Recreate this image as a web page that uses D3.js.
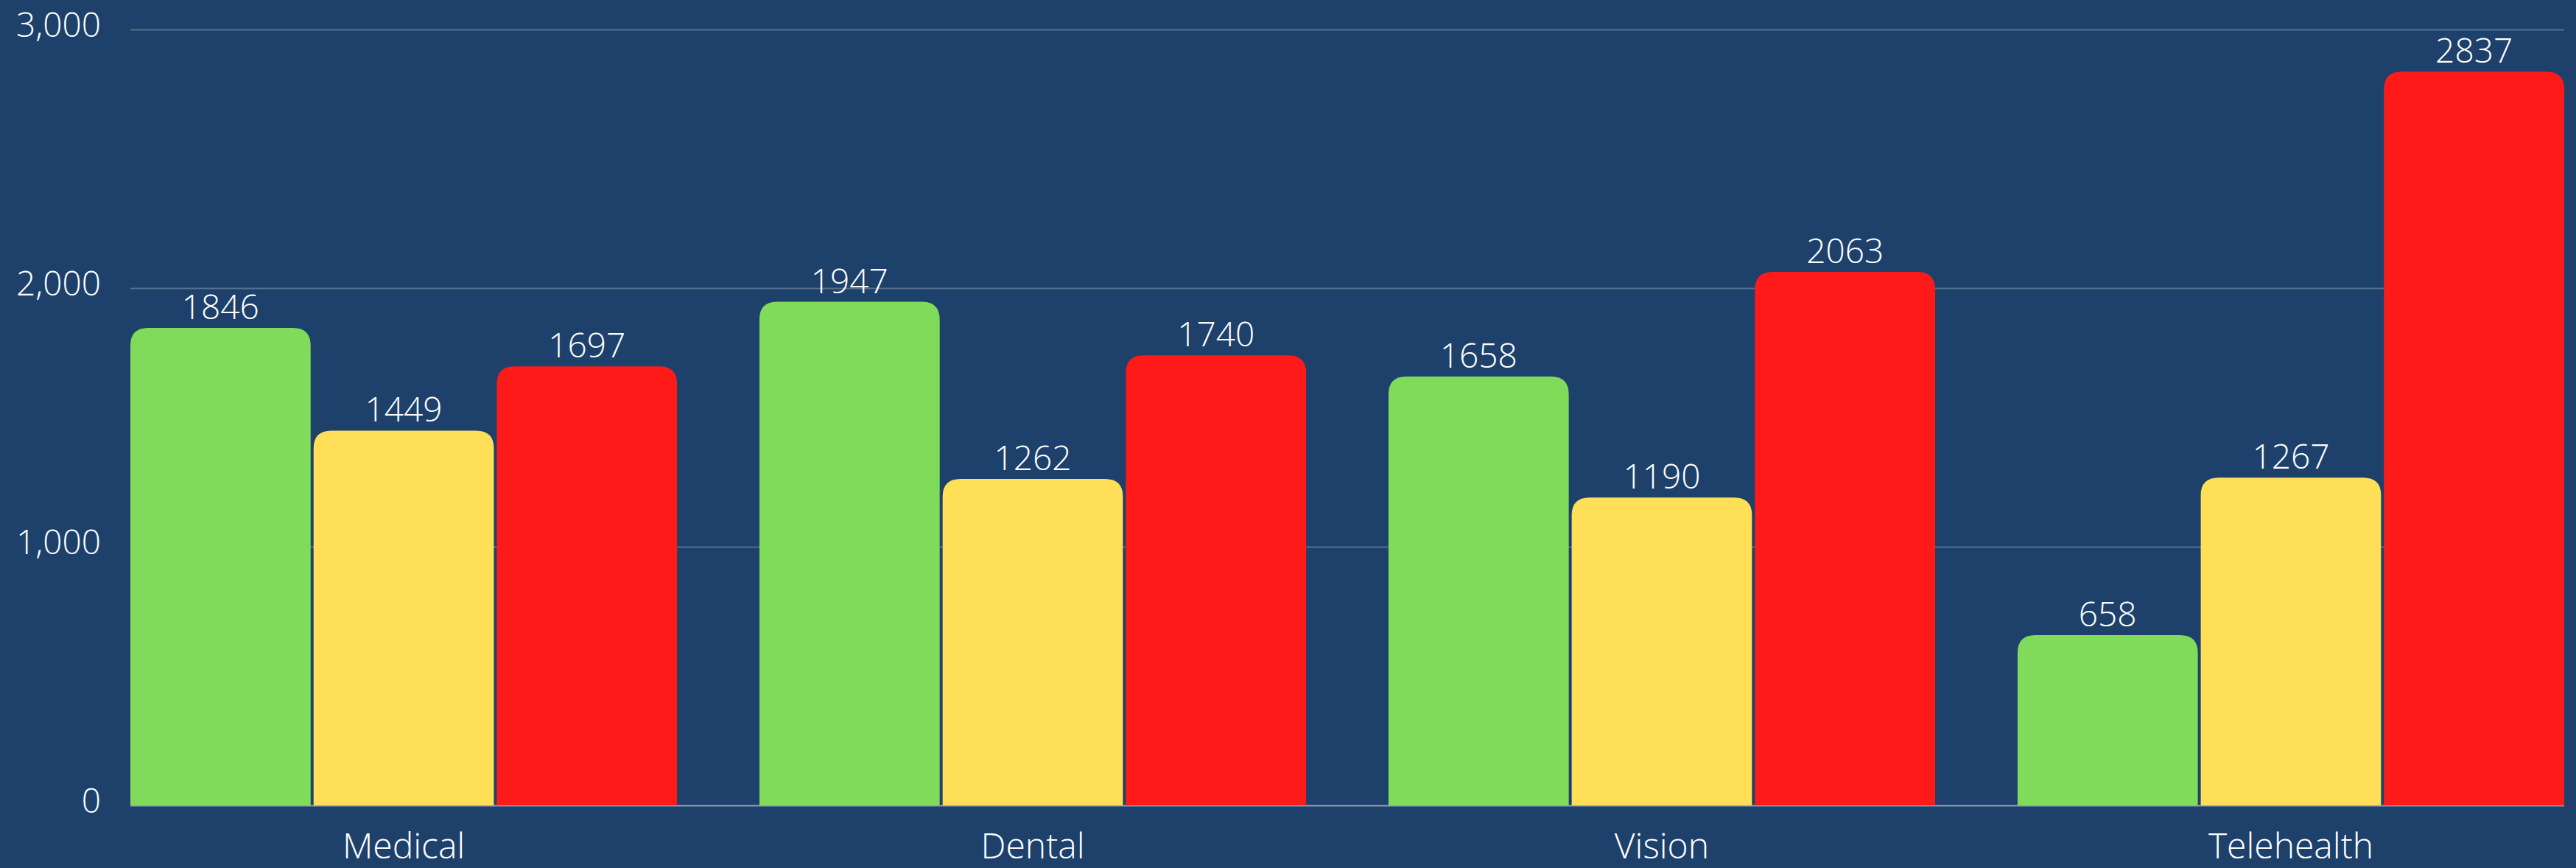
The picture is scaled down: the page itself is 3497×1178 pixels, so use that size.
<!DOCTYPE html>
<html>
<head>
<meta charset="utf-8">
<script src="https://cdn.jsdelivr.net/npm/d3@7"></script>
<style>
  html, body { margin: 0; padding: 0; background: #1d416a; }
  svg { display: block; }
  text { font-family: "Open Sans", "Segoe UI", sans-serif; font-weight: 300; fill: #ffffff; }
</style>
</head>
<body>
<svg id="chart" width="3497" height="1178"></svg>
<script>
const categories = ["Medical", "Dental", "Vision", "Telehealth"];
const seriesNames = ["Green", "Yellow", "Red"];
const greenValues = [1846, 1947, 1658, 658];
const yellowValues = [1449, 1262, 1190, 1267];
const redValues = [1697, 1740, 2063, 2837];
const yTicks = [0, 1000, 2000, 3000];
const seriesColors = ["#80db5a", "#ffdf57", "#ff1a1a"];

const W = 3497, H = 1178;
const margin = { left: 177, right: 16, top: 40, bottom: 85 };
const svg = d3.select("#chart");
svg.append("rect").attr("width", W).attr("height", H).attr("fill", "#1d416a");

const x0 = d3.scaleBand().domain(categories)
  .range([margin.left, W - margin.right]).paddingInner(0.131).paddingOuter(0);
const x1 = d3.scaleBand().domain(seriesNames)
  .range([0, x0.bandwidth()]).paddingInner(0.016).paddingOuter(0);
const y = d3.scaleLinear().domain([0, 3000]).range([H - margin.bottom, margin.top]);

// gridlines
const yAxis = d3.axisLeft(y).tickValues(yTicks)
  .tickSize(-(W - margin.right - margin.left)).tickPadding(40)
  .tickFormat(d3.format(","));
const gy = svg.append("g").attr("transform", `translate(${margin.left},0)`).call(yAxis);
gy.select(".domain").remove();
gy.selectAll(".tick line").attr("stroke", "#ffffff").attr("stroke-opacity", d => d === 0 ? 0.5 : 0.25).attr("stroke-width", 2);
gy.selectAll(".tick text").attr("font-size", 46).attr("dy", "0.2em").attr("fill", "#ffffff");

const seriesData = [greenValues, yellowValues, redValues];
const rows = categories.map((c, i) => ({
  cat: c,
  vals: seriesNames.map((s, j) => ({ s, j, v: seriesData[j][i] }))
}));

function topRounded(x, yTop, w, yBase, r) {
  const rr = Math.min(r, w / 2, (yBase - yTop));
  return `M${x},${yBase}V${yTop + rr}Q${x},${yTop} ${x + rr},${yTop}H${x + w - rr}Q${x + w},${yTop} ${x + w},${yTop + rr}V${yBase}Z`;
}

const groups = svg.append("g").selectAll("g").data(rows).join("g")
  .attr("transform", d => `translate(${x0(d.cat)},0)`);

groups.selectAll("path").data(d => d.vals).join("path")
  .attr("d", d => topRounded(x1(d.s), y(d.v), x1.bandwidth(), y(0), 24))
  .attr("fill", d => seriesColors[d.j]);

groups.selectAll("text.val").data(d => d.vals).join("text")
  .attr("class", "val")
  .attr("x", d => x1(d.s) + x1.bandwidth() / 2)
  .attr("y", d => y(d.v) - 12)
  .attr("text-anchor", "middle")
  .attr("font-size", 46)
  .text(d => d.v);

// x axis labels
const xAxis = d3.axisBottom(x0).tickSize(0).tickPadding(38);
const gx = svg.append("g").attr("transform", `translate(0,${y(0)})`).call(xAxis);
gx.select(".domain").remove();
gx.selectAll(".tick text").attr("font-size", 48).attr("fill", "#ffffff");
</script>
</body>
</html>
